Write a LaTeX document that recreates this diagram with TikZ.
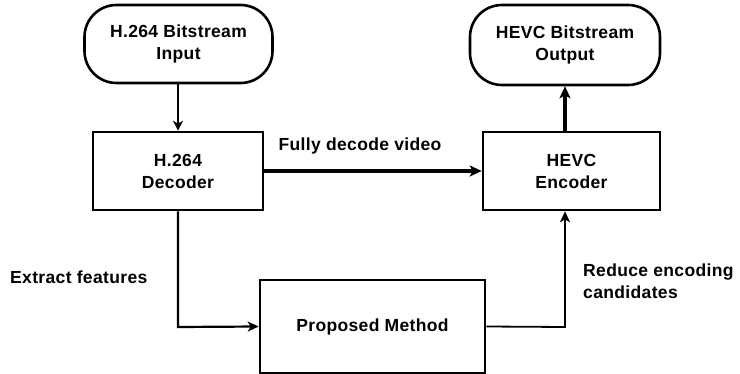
\documentclass[tikz,border=0pt]{standalone}
\usepackage{fontspec}
\setmainfont{Liberation Sans}[LetterSpace=2]
\usetikzlibrary{arrows.meta}
\begin{document}
\begin{tikzpicture}[x=1pt,y=-1pt,
  every node/.style={font=\fontsize{17.5}{22}\selectfont\bfseries},
  term/.style={draw,line width=2.6pt,rounded corners=32pt,align=center,inner sep=0pt},
  blk/.style={draw,line width=2.6pt,align=center,inner sep=0pt},
  lbl/.style={inner sep=0pt,align=left},
  thickarr/.style={line width=3.2pt,-{Stealth[length=12pt,width=11pt,inset=3pt]}},
  thinarr/.style={line width=2.2pt,-{Stealth[length=11pt,width=10pt,inset=3pt]}}]
\useasboundingbox (0,0) rectangle (740,374);
\node[term,minimum width=188pt,minimum height=78pt] (in) at (178.5,44) {H.264 Bitstream\\Input};
\node[term,minimum width=190pt,minimum height=80pt] (out) at (565,45) {HEVC Bitstream\\Output};
\node[blk,minimum width=170pt,minimum height=78pt] (dec) at (178,171) {H.264\\Decoder};
\node[blk,minimum width=177pt,minimum height=78pt] (enc) at (571.5,171) {HEVC\\Encoder};
\node[blk,minimum width=225pt,minimum height=93pt] (pm) at (372.5,326.5) {Proposed Method};
\coordinate (c1) at (178,327);
\coordinate (c2) at (565,327);
\draw[line width=2.2pt,-{Stealth[length=10pt,width=10pt,inset=3pt]}] (in.south -| dec.north) -- (dec.north);
\draw[thickarr] (enc.north -| out.south) -- (out.south);
\draw[thickarr] (dec.east) -- (enc.west);
\draw[thinarr] (c1 |- dec.south) -- (c1) -- (pm.west);
\draw[thinarr,line width=1.8pt] (pm.east) -- (c2) -- (c2 |- enc.south);
\node[lbl] (l1) at (360,146) {Fully decode video};
\node[lbl,anchor=west] (l2) at (10,277) {Extract features};
\node[lbl,anchor=west] (l3) at (583,281) {Reduce encoding\\candidates};
\end{tikzpicture}
\end{document}
